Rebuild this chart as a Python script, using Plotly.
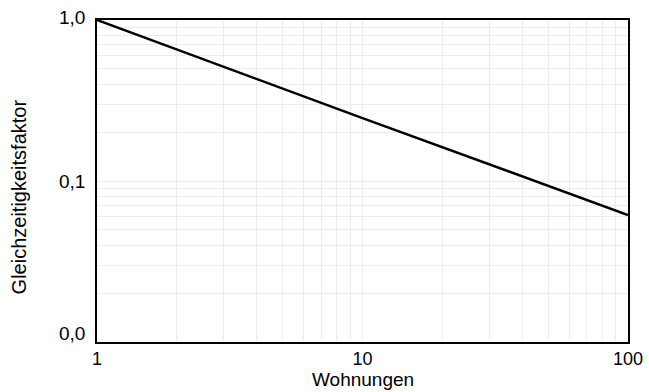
import math
import plotly.graph_objects as go

# Data (log-log straight line)
wohnungen = [1, 10, 100]
faktor = [1.0, 0.246, 0.0615]

x_tickvals = [1, 10, 100]
x_ticktext = ["1", "10", "100"]
y_tickvals = [0.01, 0.1, 1.0]
y_ticktext = ["0,0", "0,1", "1,0"]

minor_x = [m * d for d in (1, 10) for m in range(2, 10)]
minor_y = [m * d for d in (0.01, 0.1) for m in range(2, 10)]

fig = go.Figure()
fig.add_trace(go.Scatter(x=wohnungen, y=faktor, mode="lines",
                         line=dict(color="black", width=2.5),
                         showlegend=False, hoverinfo="skip"))

# y tick labels as annotations (bottom label sits inside the frame height)
label_shift = [9, 0, 2.5]
annotations = []
for v, t, s in zip(y_tickvals, y_ticktext, label_shift):
    annotations.append(dict(x=0, xref="paper", xanchor="right", xshift=-10,
                            y=math.log10(v), yref="y", yanchor="middle", yshift=s,
                            text=t, showarrow=False, font=dict(size=19)))
annotations.append(dict(x=0.5, xref="paper", y=0, yref="paper", yanchor="top",
                        yshift=-25, text="Wohnungen", showarrow=False,
                        font=dict(size=19)))
annotations.append(dict(x=0, xref="paper", xanchor="center", xshift=-78,
                        y=0.449, yref="paper", yanchor="middle", textangle=-90,
                        text="Gleichzeitigkeitsfaktor", showarrow=False,
                        font=dict(size=20)))

grid = "#ececec"
fig.update_layout(
    width=649, height=392,
    margin=dict(l=97, r=21, t=20, b=50),
    paper_bgcolor="white", plot_bgcolor="white",
    font=dict(family="Liberation Sans, Arial, sans-serif", color="black", size=19),
    annotations=annotations,
    xaxis=dict(type="log", range=[0, 2], tickmode="array", automargin=False,
               tickvals=x_tickvals, ticktext=x_ticktext, tickfont=dict(size=18),
               showline=True, mirror=True, linecolor="black", linewidth=1.5,
               showgrid=True, gridcolor=grid, gridwidth=1, zeroline=False,
               ticks="",
               minor=dict(tickmode="array", tickvals=minor_x, showgrid=True,
                          gridcolor=grid, gridwidth=1, ticks="")),
    yaxis=dict(type="log", range=[-2, 0], tickmode="array", automargin=False,
               tickvals=y_tickvals, showticklabels=False,
               showline=True, mirror=True, linecolor="black", linewidth=1.5,
               showgrid=True, gridcolor=grid, gridwidth=1, zeroline=False,
               ticks="",
               minor=dict(tickmode="array", tickvals=minor_y, showgrid=True,
                          gridcolor=grid, gridwidth=1, ticks="")),
)

fig.write_html("out.html")
